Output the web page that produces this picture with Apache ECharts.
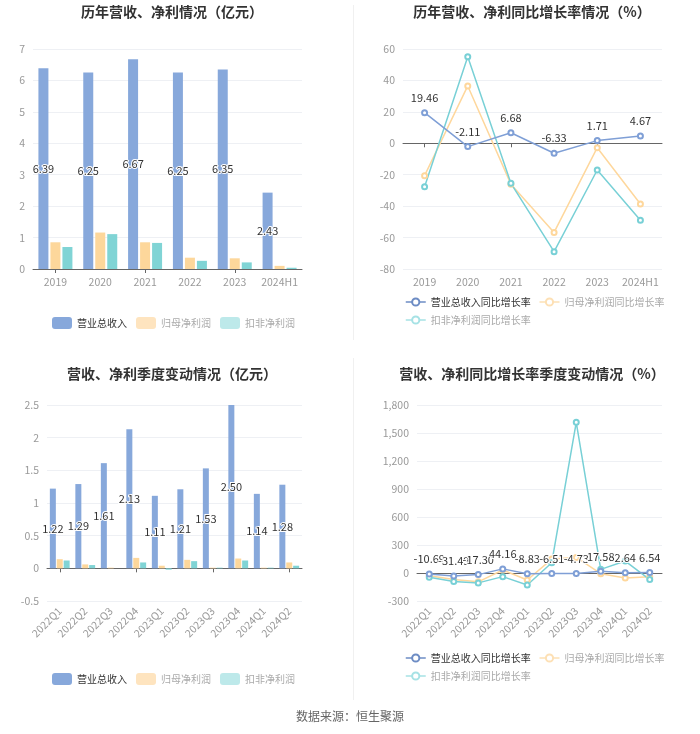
<!DOCTYPE html>
<html>
<head>
<meta charset="utf-8">
<script src="https://cdn.jsdelivr.net/npm/echarts@6/dist/echarts.min.js"></script>
<style>
html,body{margin:0;padding:0;background:#fff;}
#main{width:700px;height:734px;}
</style>
</head>
<body>
<div id="main"></div>
<script>
// ---- data ----
const yearCats = ['2019', '2020', '2021', '2022', '2023', '2024H1'];
const yearRevenue = [6.39, 6.25, 6.67, 6.25, 6.35, 2.43];
const yearNetProfit = [0.85, 1.16, 0.85, 0.36, 0.34, 0.10];
const yearDeductedProfit = [0.70, 1.11, 0.83, 0.26, 0.21, 0.04];
const yearRevenueGrowth = [19.46, -2.11, 6.68, -6.33, 1.71, 4.67];
const yearNetProfitGrowth = [-20.6, 36.5, -26.0, -56.7, -2.8, -38.6];
const yearDeductedGrowth = [-27.6, 55.1, -25.5, -69.0, -17.0, -49.0];

const quarterCats = ['2022Q1', '2022Q2', '2022Q3', '2022Q4', '2023Q1', '2023Q2', '2023Q3', '2023Q4', '2024Q1', '2024Q2'];
const qRevenue = [1.22, 1.29, 1.61, 2.13, 1.11, 1.21, 1.53, 2.50, 1.14, 1.28];
const qNetProfit = [0.14, 0.06, 0.01, 0.16, 0.04, 0.13, 0.01, 0.15, 0.01, 0.09];
const qDeductedProfit = [0.12, 0.05, 0.00, 0.09, -0.02, 0.11, 0.01, 0.12, 0.01, 0.04];
const qRevenueGrowth = [-10.69, -31.49, -17.30, 44.16, -8.83, -6.51, -4.73, 17.58, 2.64, 6.54];
const qNetProfitGrowth = [-30, -70, -95, 32, -75, 149, 167, -7, -53, -39];
const qDeductedGrowth = [-46, -92, -106, -39, -128, 110, 1615, 39, 128, -70];

const titles = ['历年营收、净利情况（亿元）', '历年营收、净利同比增长率情况（%）', '营收、净利季度变动情况（亿元）', '营收、净利同比增长率季度变动情况（%）'];
const barNames = ['营业总收入', '归母净利润', '扣非净利润'];
const lineNames = ['营业总收入同比增长率', '归母净利润同比增长率', '扣非净利润同比增长率'];
const sourceText = '数据来源：恒生聚源';

// ---- style ----
const FONT = '"Microsoft YaHei", "Noto Sans CJK SC", "Noto Sans", sans-serif';
const BLUE = '#87a8db', YELLOW = '#fdd79b', TEAL = '#80d4d5';
const LBLUE = '#7f9fd6', LYELLOW = '#fed79c', LTEAL = '#78d0d6';
const axisLabel = { color: '#999', fontSize: 10.5 };
const splitLine = { show: true, lineStyle: { color: '#eef0f4', width: 1 } };

const chart = echarts.init(document.getElementById('main'));

function xPair(cats, grid, rotate) {
  return [
    { type: 'category', gridIndex: grid, data: cats, position: 'bottom',
      axisLine: { show: false, onZero: false }, axisTick: { show: false },
      axisLabel: Object.assign({ rotate: rotate || 0, margin: 8, interval: 0 }, axisLabel) },
    { type: 'category', gridIndex: grid, data: cats, position: 'bottom',
      axisLine: { show: true, onZero: true, lineStyle: { color: '#666', width: 1 } },
      axisTick: { show: true, alignWithLabel: true, length: 4, lineStyle: { color: '#666' } },
      axisLabel: { show: false } }
  ];
}
function yAxis(grid, min, max, interval) {
  return { type: 'value', gridIndex: grid, min: min, max: max, interval: interval,
    axisLine: { show: false }, axisTick: { show: false },
    axisLabel: Object.assign({ margin: 8 }, axisLabel), splitLine: splitLine };
}
const barLabel = { show: true, position: 'inside', color: '#333', fontSize: 11,
  textBorderColor: '#fff', textBorderWidth: 2, formatter: p => p.value.toFixed(2) };
const lineLabel = { show: true, position: 'top', color: '#333', fontSize: 11,
  textBorderColor: '#fff', textBorderWidth: 2, distance: 6, formatter: p => p.value.toFixed(2) };

function bars(xi, yi, cats, vals, bw, gap) {
  const colors = [BLUE, YELLOW, TEAL];
  return vals.map((v, i) => ({
    type: 'bar', name: barNames[i], xAxisIndex: xi, yAxisIndex: yi, data: v,
    barWidth: bw, barGap: gap, itemStyle: { color: colors[i] },
    label: i === 0 ? barLabel : { show: false }
  }));
}
function lines(xi, yi, vals) {
  const colors = [LBLUE, LYELLOW, LTEAL];
  return vals.map((v, i) => ({
    type: 'line', name: lineNames[i], xAxisIndex: xi, yAxisIndex: yi, data: v,
    symbol: 'emptyCircle', symbolSize: 5, lineStyle: { color: colors[i], width: 1.5 },
    itemStyle: { color: colors[i] }, label: i === 0 ? lineLabel : { show: false },
    z: i === 0 ? 4 : 3
  }));
}
function barLegend(top) {
  return { left: 47, top: top, itemWidth: 20, itemHeight: 12, itemGap: 9,
    textStyle: { fontSize: 10, color: '#333' },
    data: [
      { name: barNames[0], itemStyle: { color: BLUE }, textStyle: { color: '#333' } },
      { name: barNames[1], itemStyle: { color: '#fee4bf' }, textStyle: { color: '#aaa' } },
      { name: barNames[2], itemStyle: { color: '#bde9ea' }, textStyle: { color: '#aaa' } }
    ] };
}
function lineLegend(top) {
  const c = ['#6d8cc4', '#fde0b5', '#a6e2e5'];
  return { left: 400, top: top, width: 280, itemWidth: 20, itemHeight: 9, itemGap: 8,
    textStyle: { fontSize: 10, color: '#333' },
    data: lineNames.map((n, i) => ({
      name: n,
      itemStyle: { color: c[i], borderColor: c[i] },
      lineStyle: { color: c[i], width: 1.5 },
      textStyle: { color: i === 0 ? '#333' : '#aaa' }
    })) };
}
function title(text, x, top) {
  return { text: text, left: x, top: top, textAlign: 'center',
    textStyle: { fontSize: 14, fontWeight: 'bold', color: '#333', fontFamily: FONT } };
}

const option = {
  animation: false,
  textStyle: { fontFamily: FONT },
  title: [
    title(titles[0], 167, 0),
    title(titles[1], 527, 0),
    title(titles[2], 167, 362),
    title(titles[3], 527, 362)
  ],
  legend: [barLegend(312), lineLegend(292), barLegend(668), lineLegend(648)],
  grid: [
    { left: 33, top: 49, width: 269, height: 220 },
    { left: 403, top: 49, width: 259, height: 220 },
    { left: 47, top: 405, width: 255, height: 196 },
    { left: 417, top: 405, width: 245, height: 196 }
  ],
  xAxis: [].concat(xPair(yearCats, 0), xPair(yearCats, 1), xPair(quarterCats, 2, 45), xPair(quarterCats, 3, 45)),
  yAxis: [yAxis(0, 0, 7, 1), yAxis(1, -80, 60, 20), yAxis(2, -0.5, 2.5, 0.5), yAxis(3, -300, 1800, 300)],
  series: [].concat(
    bars(0, 0, yearCats, [yearRevenue, yearNetProfit, yearDeductedProfit], 10, '20%'),
    lines(2, 1, [yearRevenueGrowth, yearNetProfitGrowth, yearDeductedGrowth]),
    bars(4, 2, quarterCats, [qRevenue, qNetProfit, qDeductedProfit], 6, '15%'),
    lines(6, 3, [qRevenueGrowth, qNetProfitGrowth, qDeductedGrowth])
  ),
  graphic: [
    { type: 'line', shape: { x1: 353.5, y1: 5, x2: 353.5, y2: 340 }, style: { stroke: '#f0f0f0', lineWidth: 1 } },
    { type: 'line', shape: { x1: 353.5, y1: 358, x2: 353.5, y2: 700 }, style: { stroke: '#f0f0f0', lineWidth: 1 } },
    { type: 'text', x: 350, y: 710, style: { text: sourceText, fill: '#666', font: '12px ' + FONT, textAlign: 'center' } }
  ]
};
chart.setOption(option);
</script>
</body>
</html>
